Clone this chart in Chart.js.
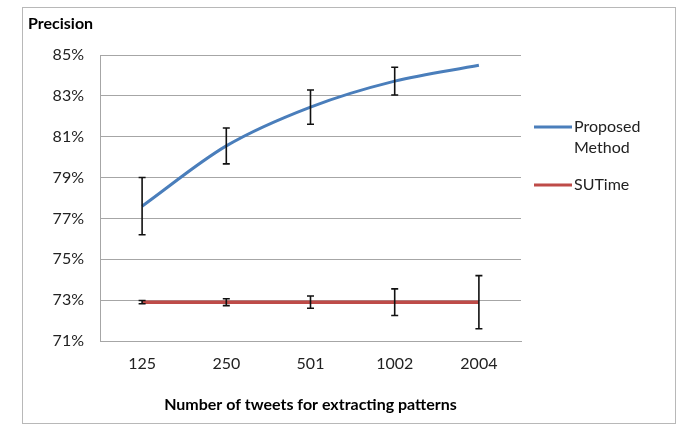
<!DOCTYPE html>
<html lang="en">
<head>
    <meta charset="UTF-8">
    <title>Precision vs number of tweets</title>
    <script src="https://cdn.jsdelivr.net/npm/chart.js"></script>
    <style>
        body {
            margin: 0;
            background: #fff;
        }
        .wrap {
            position: relative;
            width: 677px;
            height: 426px;
        }
        .frame {
            position: absolute;
            left: 22px;
            top: 7px;
            width: 652px;
            height: 415px;
            border: 1px solid #b8b8b8;
        }
        canvas {
            position: absolute;
            left: 0;
            top: 0;
        }
    </style>
</head>
<body>
    <div class="wrap">
        <div class="frame"></div>
        <canvas id="precisionChart" width="677" height="426"></canvas>
    </div>
    <script>
        const tweetCounts = ['125', '250', '501', '1002', '2004'];
        const proposedPrecision = [77.6, 80.55, 82.45, 83.72, 84.5];
        const proposedError = [1.4, 0.88, 0.84, 0.68, 0];
        const sutimePrecision = [72.9, 72.9, 72.9, 72.9, 72.9];
        const sutimeError = [0.08, 0.17, 0.3, 0.65, 1.3];

        const FONT = 'Lato, "Open Sans", sans-serif';

        // error bars, y label and legend are drawn on top of the chart
        const extras = {
            id: 'extras',
            afterDatasetsDraw(chart) {
                const ctx = chart.ctx;
                const x = chart.scales.x;
                const y = chart.scales.y;
                const errs = [proposedError, sutimeError];
                ctx.save();
                ctx.strokeStyle = '#111';
                ctx.lineWidth = 1.6;
                chart.data.datasets.forEach((ds, i) => {
                    ds.data.forEach((v, j) => {
                        const e = errs[i][j];
                        if (!e) return;
                        const px = x.getPixelForValue(j);
                        const top = y.getPixelForValue(v + e);
                        const bot = y.getPixelForValue(v - e);
                        ctx.beginPath();
                        ctx.moveTo(px, top);
                        ctx.lineTo(px, bot);
                        ctx.moveTo(px - 3.5, top);
                        ctx.lineTo(px + 3.5, top);
                        ctx.moveTo(px - 3.5, bot);
                        ctx.lineTo(px + 3.5, bot);
                        ctx.stroke();
                    });
                });

                ctx.fillStyle = '#000';
                ctx.font = 'bold 16px ' + FONT;
                ctx.textBaseline = 'middle';
                ctx.textAlign = 'left';
                ctx.fillText('Precision', 28, 24);

                // legend
                const items = [
                    { lines: ['Proposed', 'Method'], color: chart.data.datasets[0].borderColor, y: 127 },
                    { lines: ['SUTime'], color: chart.data.datasets[1].borderColor, y: 185 }
                ];
                ctx.font = '16px ' + FONT;
                items.forEach(it => {
                    ctx.strokeStyle = it.color;
                    ctx.lineWidth = 3;
                    ctx.beginPath();
                    ctx.moveTo(534, it.y);
                    ctx.lineTo(572, it.y);
                    ctx.stroke();
                    ctx.fillStyle = '#222';
                    it.lines.forEach((t, k) => ctx.fillText(t, 574, it.y + k * 21));
                });
                ctx.restore();
            }
        };

        const ctx = document.getElementById('precisionChart').getContext('2d');
        new Chart(ctx, {
            type: 'line',
            data: {
                labels: tweetCounts,
                datasets: [{
                    label: 'Proposed Method',
                    data: proposedPrecision,
                    borderColor: '#4a7ebb',
                    borderWidth: 3,
                    pointRadius: 0,
                    cubicInterpolationMode: 'monotone'
                }, {
                    label: 'SUTime',
                    data: sutimePrecision,
                    borderColor: '#be4b48',
                    borderWidth: 3.5,
                    pointRadius: 0
                }]
            },
            options: {
                responsive: false,
                animation: false,
                layout: {
                    padding: { left: 0, top: 55, right: 156, bottom: 0 }
                },
                plugins: {
                    legend: { display: false },
                    tooltip: { enabled: false }
                },
                scales: {
                    x: {
                        offset: true,
                        grid: { display: false, drawTicks: false },
                        border: { color: '#a6a6a6', width: 1 },
                        ticks: {
                            padding: 13,
                            color: '#222',
                            font: { family: FONT, size: 16 }
                        },
                        title: {
                            display: true,
                            text: 'Number of tweets for extracting patterns',
                            color: '#000',
                            font: { family: FONT, size: 16, weight: 'bold' },
                            padding: { top: 0, bottom: 12 }
                        },
                        afterFit(scale) { scale.height = 85; }
                    },
                    y: {
                        min: 71,
                        max: 85,
                        grid: { color: '#a6a6a6', drawTicks: false },
                        border: { color: '#a6a6a6', width: 1 },
                        ticks: {
                            stepSize: 2,
                            padding: 16,
                            color: '#222',
                            font: { family: FONT, size: 16 },
                            callback: v => v + '%'
                        },
                        afterFit(scale) { scale.width = 100; }
                    }
                }
            },
            plugins: [extras]
        });
    </script>
</body>
</html>
